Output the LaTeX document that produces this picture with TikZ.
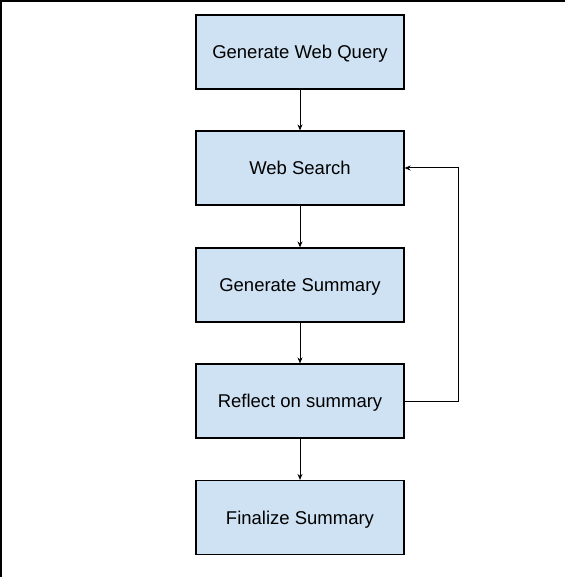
\documentclass[tikz,border=0pt]{standalone}
\usepackage{fontspec}
\setmainfont{Liberation Sans}
\usetikzlibrary{arrows.meta}
\definecolor{boxblue}{HTML}{CFE2F3}
\begin{document}
\begin{tikzpicture}[x=1pt,y=-1pt,
  stepbox/.style={draw=black,line width=1.1pt,fill=boxblue,minimum width=208pt,minimum height=74pt,inner sep=0pt,text height=13.2pt,text depth=0pt,font=\fontsize{18.5}{22}\selectfont},
  conn/.style={line width=1pt,-{Stealth[length=6pt,width=5pt]}}]
\useasboundingbox (0,0) rectangle (565,577);
\fill[white] (0,0) rectangle (565,577);
\draw[line width=1.6pt] (0.8,577) -- (0.8,0.8) -- (565,0.8);
\node[stepbox] (q) at (300,52) {Generate Web Query};
\node[stepbox] (s) at (300,168) {Web Search};
\node[stepbox] (g) at (300,285) {Generate Summary};
\node[stepbox] (r) at (300,401) {Reflect on summary};
\node[stepbox] (f) at (300,517.5) {Finalize Summary};
\coordinate (c1) at (458,401);
\coordinate (c2) at (458,168);
\draw[conn] (q) -- (s);
\draw[conn] (s) -- (g);
\draw[conn] (g) -- (r);
\draw[conn] (r) -- (f);
\draw[conn] (r.east) -- (c1) -- (c2) -- (s.east);
\end{tikzpicture}
\end{document}
